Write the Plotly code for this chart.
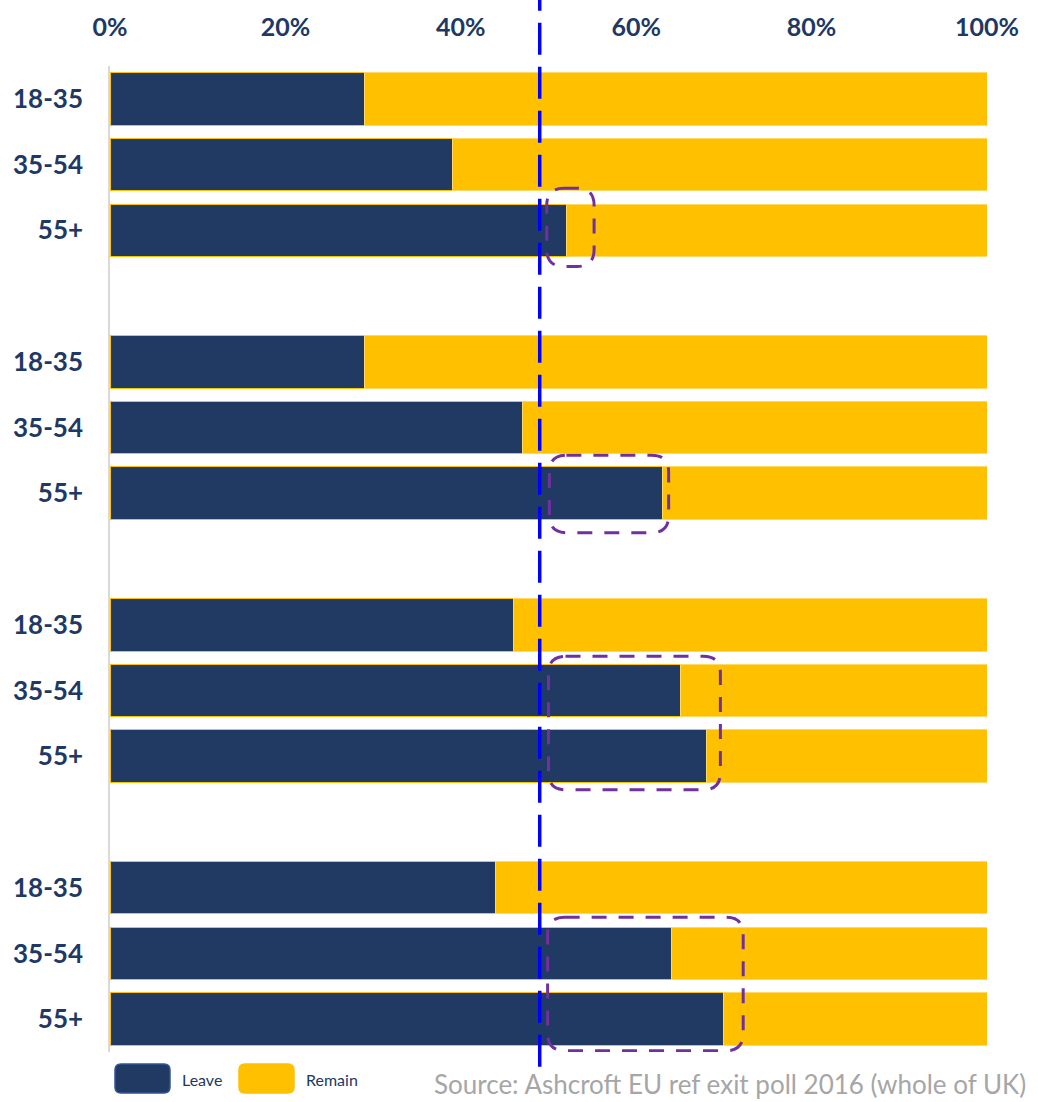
import plotly.graph_objects as go

# Age bands, repeated for each of the four groups
age_labels = ["18-35", "35-54", "55+"]
groups = 4

# Leave share (%) per age band, one list per group
leave_g1 = [29, 39, 52]
leave_g2 = [29, 47, 63]
leave_g3 = [46, 65, 68]
leave_g4 = [44, 64, 70]
leave_all = [leave_g1, leave_g2, leave_g3, leave_g4]

# National Leave reference level (%)
reference_level = 49

x_ticks = [0, 20, 40, 60, 80, 100]
x_tick_text = ["0%", "20%", "40%", "60%", "80%", "100%"]

# Highlight boxes: (x0, x1, y0, y1) in data units (x in %, y in row slots)
highlights = [
    (49.8, 55.2, 1.36, 2.55),
    (50.1, 63.7, 5.42, 6.60),
    (50.0, 69.6, 8.48, 10.51),
    (49.9, 72.2, 12.45, 14.48),
]

NAVY = "#203864"
GOLD = "#FFC000"
FONT = "Lato"

# Each group takes 3 rows plus one empty spacer row
y_pos, leave_vals, tick_text = [], [], []
for g, vals in enumerate(leave_all):
    for i, v in enumerate(vals):
        y_pos.append(g * 4 + i)
        leave_vals.append(v)
        tick_text.append(age_labels[i])
remain_vals = [100 - v for v in leave_vals]

fig = go.Figure()
fig.add_trace(go.Bar(
    y=y_pos, x=leave_vals, orientation="h", name="Leave",
    marker=dict(color="#213A63", line=dict(color=GOLD, width=1)),
    hoverinfo="x+name",
))
fig.add_trace(go.Bar(
    y=y_pos, x=remain_vals, orientation="h", name="Remain",
    marker=dict(color=GOLD, line=dict(color="#FFD966", width=1)),
    hoverinfo="x+name",
))

# Dashed reference line spanning the full height
fig.add_shape(type="line", xref="x", yref="paper",
              x0=reference_level, x1=reference_level, y0=-0.015, y1=1.067,
              line=dict(color="#0000FF", width=3.5, dash="32px,12px"),
              layer="above")

# Rounded dashed highlight boxes
px_per_x = 877 / 100
px_per_y = 986 / 15
r_px = 17
for (x0, x1, y0, y1) in highlights:
    rx = r_px / px_per_x
    ry = r_px / px_per_y
    path = (
        f"M {x0 + rx},{y0} L {x1 - rx},{y0} Q {x1},{y0} {x1},{y0 + ry} "
        f"L {x1},{y1 - ry} Q {x1},{y1} {x1 - rx},{y1} "
        f"L {x0 + rx},{y1} Q {x0},{y1} {x0},{y1 - ry} "
        f"L {x0},{y0 + ry} Q {x0},{y0} {x0 + rx},{y0} Z"
    )
    fig.add_shape(type="path", xref="x", yref="y", path=path,
                  line=dict(color="#7030A0", width=3, dash="15px,12px"),
                  layer="above")

# Legend drawn as rounded swatches with labels beneath the plot
def swatch(x0_px, color, border):
    x0 = (x0_px - 110) / 877
    x1 = (x0_px + 55 - 110) / 877
    ya = -(1064 - 1052) / 986
    yb = -(1093 - 1052) / 986
    rx, ry = 6 / 877, 6 / 986
    path = (
        f"M {x0 + rx},{ya} L {x1 - rx},{ya} Q {x1},{ya} {x1},{ya - ry} "
        f"L {x1},{yb + ry} Q {x1},{yb} {x1 - rx},{yb} "
        f"L {x0 + rx},{yb} Q {x0},{yb} {x0},{yb + ry} "
        f"L {x0},{ya - ry} Q {x0},{ya} {x0 + rx},{ya} Z"
    )
    fig.add_shape(type="path", xref="paper", yref="paper", path=path,
                  fillcolor=color, line=dict(color=border, width=1.5))

swatch(115, "#213A63", "#2F5597")
swatch(239, GOLD, GOLD)
for label, px in (("Leave", 180), ("Remain", 304)):
    fig.add_annotation(text=label, xref="paper", yref="paper",
                       x=(px - 110) / 877, y=-(1079 - 1052) / 986,
                       xanchor="left", yanchor="middle", showarrow=False,
                       font=dict(family=FONT, size=16, color=NAVY))

fig.add_annotation(text="Source: Ashcroft EU ref exit poll 2016 (whole of UK)",
                   xref="paper", yref="paper",
                   x=(432 - 110) / 877, y=-(1084 - 1052) / 986,
                   xanchor="left", yanchor="middle", showarrow=False,
                   font=dict(family=FONT, size=26, color="#A6A6A6"))

fig.update_layout(
    barmode="stack",
    bargap=0.2,
    width=1038, height=1102,
    margin=dict(l=110, r=51, t=66, b=50),
    plot_bgcolor="white", paper_bgcolor="white",
    showlegend=False,
    font=dict(family=FONT),
    xaxis=dict(
        side="top", range=[0, 100], tickvals=x_ticks, ticktext=x_tick_text,
        showgrid=False, zeroline=False, showline=False, ticks="",
        tickfont=dict(family=FONT, size=25, color=NAVY, weight="bold"),
        ticklabelstandoff=24,
    ),
    yaxis=dict(
        range=[14.5, -0.5], tickvals=y_pos, ticktext=tick_text,
        showgrid=False, zeroline=False, showline=True,
        linecolor="#D9D9D9", linewidth=1.5, ticks="",
        tickfont=dict(family=FONT, size=26, color=NAVY, weight="bold"),
        ticklabelstandoff=20,
    ),
)

fig.write_html("out.html")
